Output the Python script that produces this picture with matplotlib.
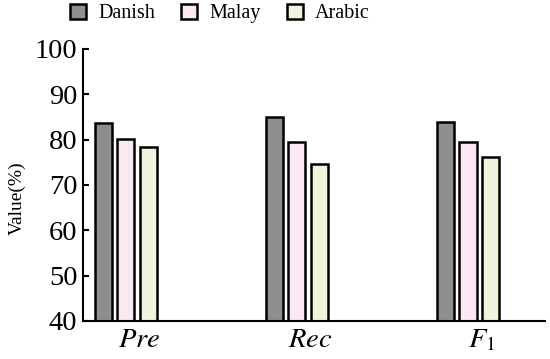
import numpy as np
import matplotlib.pyplot as plt

# values
metrics = ['$\\it{Pre}$', '$\\it{Rec}$', '$F_1$']
languages = ['Danish', 'Malay', 'Arabic']
danish = [83.6, 85.0, 83.8]
malay = [80.1, 79.5, 79.5]
arabic = [78.4, 74.5, 76.2]
colors = ['#8e8e8e', '#fbe8f2', '#f1f3de']

plt.rcParams['font.family'] = ['Liberation Serif', 'DejaVu Serif']
plt.rcParams['mathtext.fontset'] = 'stix'

fig = plt.figure(figsize=(5.5, 3.59), dpi=100)
ax = fig.add_axes([0.151, 0.106, 0.84, 0.758])

x = np.arange(len(metrics))
w = 0.1
step = 0.13
for i, (vals, name) in enumerate(zip([danish, malay, arabic], languages)):
    ax.bar(x + (i - 1) * step, np.array(vals) - 40, bottom=40, width=w,
           color=colors[i], edgecolor='black', linewidth=1.8, label=name)

ax.set_xlim(-0.25, 2.45)
ax.set_ylim(40, 100)
ax.set_yticks(np.arange(40, 101, 10))
ax.tick_params(axis='y', direction='in', length=4, width=1.5, labelsize=20.5, pad=4)
ax.set_xticks(x + 0.08)
ax.set_xticklabels(metrics)
ax.tick_params(axis='x', length=0, labelsize=20.5, pad=5)

ax.spines['top'].set_visible(False)
ax.spines['right'].set_visible(False)
ax.spines['left'].set_linewidth(1.5)
ax.spines['bottom'].set_linewidth(1.5)

ax.set_ylabel('Value(%)', fontsize=14)
ax.yaxis.set_label_coords(-0.125, 0.45)

fig.legend(loc='center', bbox_to_anchor=(0.40, 0.962), ncol=3, frameon=False,
           fontsize=14.5, handlelength=0.8, handleheight=0.8, columnspacing=1.3,
           handletextpad=0.6)

fig.savefig('out.png', dpi=100)
